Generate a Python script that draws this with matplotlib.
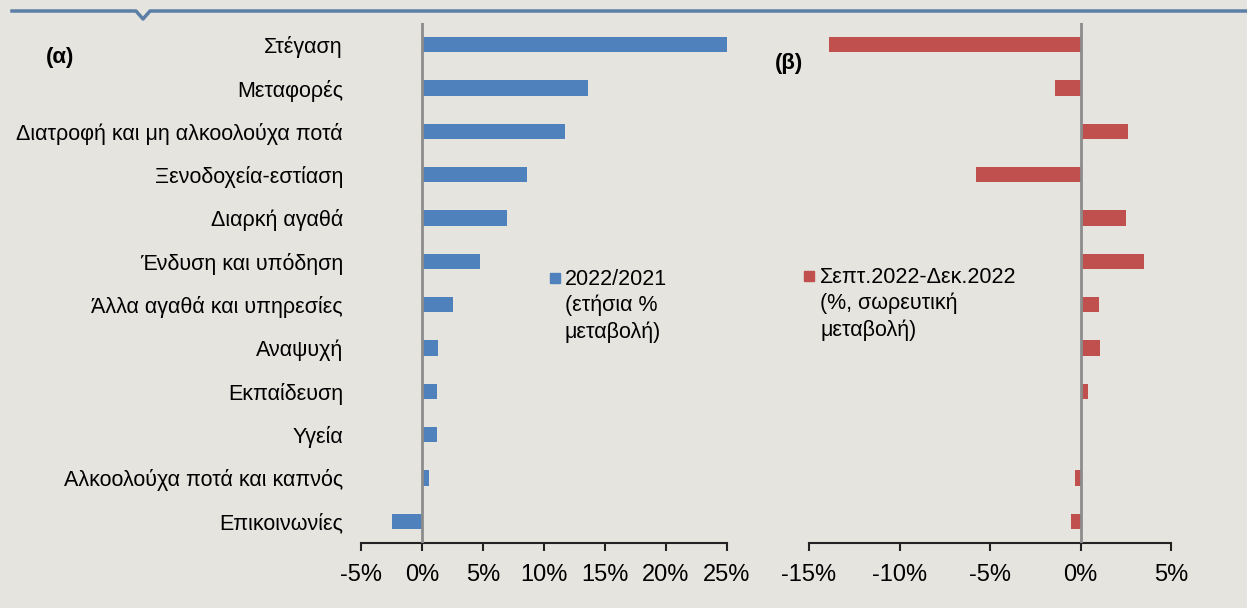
import numpy as np
import matplotlib.pyplot as plt
from matplotlib.lines import Line2D
from matplotlib.patches import Rectangle

plt.rcParams.update({
    "font.family": ["Liberation Sans", "DejaVu Sans"],
    "font.size": 15.5,
})

categories = ["Στέγαση", "Μεταφορές", "Διατροφή και μη αλκοολούχα ποτά",
              "Ξενοδοχεία-εστίαση", "Διαρκή αγαθά", "Ένδυση και υπόδηση",
              "Άλλα αγαθά και υπηρεσίες", "Αναψυχή", "Εκπαίδευση", "Υγεία",
              "Αλκοολούχα ποτά και καπνός", "Επικοινωνίες"]
annual = [25.0, 13.6, 11.7, 8.6, 7.0, 4.75, 2.5, 1.3, 1.25, 1.2, 0.6, -2.5]
cumul = [-13.9, -1.4, 2.6, -5.75, 2.5, 3.5, 1.0, 1.1, 0.4, 0.1, -0.3, -0.5]
ticks_a = [-5, 0, 5, 10, 15, 20, 25]
ticks_b = [-15, -10, -5, 0, 5]
label_a = "2022/2021\n(ετήσια %\nμεταβολή)"
label_b = "Σεπτ.2022-Δεκ.2022\n(%, σωρευτική\nμεταβολή)"

bg = "#E5E4DF"
blue = "#4F81BD"
red = "#C0504D"

fig = plt.figure(figsize=(12.47, 6.08), dpi=100, facecolor=bg)
ax1 = fig.add_axes([361/1247, 1-543/608, 366/1247, 520/608])
ax2 = fig.add_axes([809/1247, 1-543/608, 362/1247, 520/608])

y = np.arange(len(categories))
for ax, vals, col, ticks in [(ax1, annual, blue, ticks_a), (ax2, cumul, red, ticks_b)]:
    ax.set_facecolor(bg)
    ax.barh(y, vals, height=0.36, color=col, zorder=2)
    ax.axvline(0, color="#8C8C8C", lw=2, zorder=3)
    ax.set_ylim(len(categories) - 0.5, -0.5)
    ax.set_xlim(ticks[0], ticks[-1])
    ax.set_xticks(ticks)
    ax.set_xticklabels([f"{t}%" for t in ticks], fontsize=17)
    for s in ["left", "top", "right"]:
        ax.spines[s].set_visible(False)
    ax.spines["bottom"].set_linewidth(1.5)
    ax.spines["bottom"].set_color("#222222")
    ax.tick_params(axis="x", length=6, width=1.5, color="#222222", pad=9)

ax1.set_yticks(y)
ax1.set_yticklabels(categories)
ax1.tick_params(axis="y", length=0, pad=13)
ax2.set_yticks([])

# legends (square key aligned with first text line)
for sx, sy, tx, ty, txt, col in [(550, 273, 565, 269, label_a, blue),
                                 (804, 271, 820, 267, label_b, red)]:
    fig.add_artist(Rectangle((sx/1247, 1-(sy+10)/608), 10/1247, 10/608,
                             color=col, transform=fig.transFigure))
    fig.text(tx/1247, 1-ty/608, txt, fontsize=15.5, va="top", ha="left",
             linespacing=1.3)

fig.text(46/1247, 1-57/608, "(α)", fontsize=16, fontweight="bold", va="center")
fig.text(775/1247, 1-63/608, "(β)", fontsize=16, fontweight="bold", va="center")

# top decorative line with notch
lx = np.array([12, 136, 143, 150, 1247]) / 1247
ly = 1 - np.array([11, 11, 19, 11, 11]) / 608
fig.add_artist(Line2D(lx, ly, color="#5B7FA6", lw=2.5, transform=fig.transFigure))

fig.savefig("out.png", dpi=100, facecolor=bg)
